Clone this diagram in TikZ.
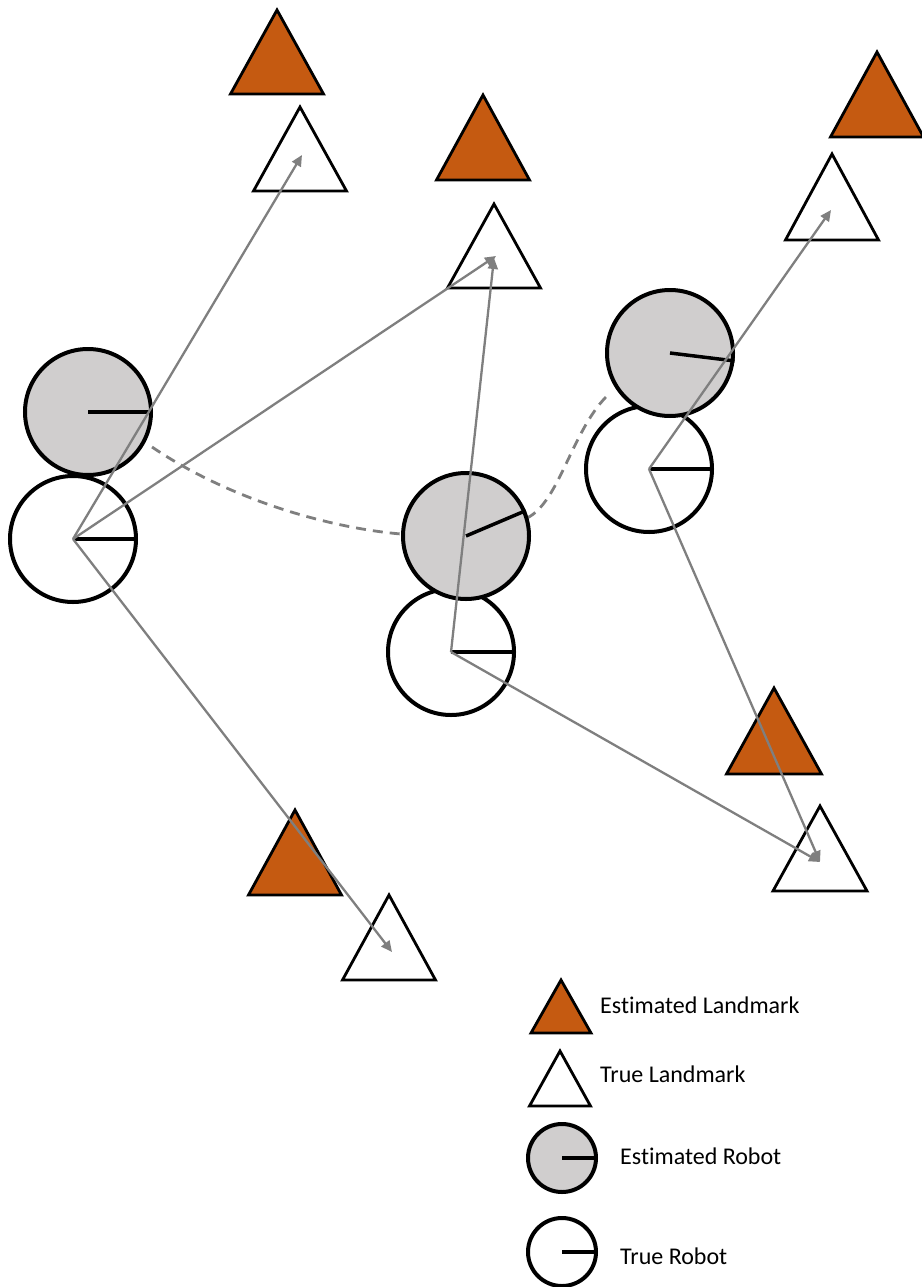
\documentclass[tikz,border=0pt]{standalone}
\usepackage{fontspec}
\setmainfont{Carlito}[Ligatures={NoCommon}]
\usetikzlibrary{arrows.meta}
\definecolor{estorange}{HTML}{C55A11}
\definecolor{estgray}{HTML}{D0CECE}
\definecolor{raygray}{HTML}{7F7F7F}
\tikzset{
  truerobot/.style={circle, draw=black, line width=4pt, fill=white, minimum size=126pt, inner sep=0pt},
  estrobot/.style={truerobot, fill=estgray},
  heading/.style={draw=black, line width=3.5pt},
  truelmk/.style={draw=black, line width=2.8pt, fill=white, line join=miter},
  estlmk/.style={truelmk, fill=estorange},
  ray/.style={draw=raygray, line width=2.3pt, -{Triangle[length=11pt,width=10pt]}},
  trail/.style={draw=raygray, line width=2.8pt, dash pattern=on 10pt off 7pt},
  label/.style={anchor=base west, font=\fontsize{24pt}{28pt}\selectfont, inner sep=0pt}
}
% landmark triangle: name, apex x, apex y, style, half base, height
\newcommand{\landmark}[6]{%
  \path[#4] (#2,#3) -- ++(-#5,#6) -- ++(2*#5,0) -- cycle;
  \coordinate (#1) at (#2,#3+#6*2/3);
}
\begin{document}
\begin{tikzpicture}[x=1pt,y=-1pt]
\useasboundingbox (0,0) rectangle (921,1287);

% landmarks: estimated (orange) and true (white)
\landmark{e1}{277}{10}{estlmk}{46.5}{84}
\landmark{l1}{300}{107}{truelmk}{46.5}{84}
\landmark{e2}{483}{95}{estlmk}{46.5}{85}
\landmark{l2}{494}{204}{truelmk}{46.5}{84}
\landmark{e3}{877}{52}{estlmk}{46.5}{85}
\landmark{l3}{832}{154}{truelmk}{46.5}{86}
\landmark{e4}{774}{688}{estlmk}{47.5}{86}
\landmark{l4}{820}{806}{truelmk}{47}{85}
\landmark{e5}{295}{810}{estlmk}{46.5}{85}
\landmark{l5}{389}{895}{truelmk}{46.5}{85}

% estimated trajectory
\coordinate (d1a) at (152,447);
\coordinate (d1b) at (401,534);
\coordinate (d2a) at (527,518);
\coordinate (d2b) at (610,393);
\draw[trail] (d1a) .. controls (230,500) and (330,528) .. (d1b);
\draw[trail] (d2a) .. controls (560,502) and (572,428) .. (d2b);

% robots: true pose under estimated pose
\node[truerobot] (t1) at (73,539) {};
\node[estrobot] (r1) at (88,412) {};
\node[truerobot] (t2) at (451,652) {};
\node[estrobot] (r2) at (466,536) {};
\node[truerobot] (t3) at (649,469) {};
\node[estrobot] (r3) at (670,353) {};

\draw[heading] (t1.center) -- (t1.east);
\draw[heading] (r1.center) -- (r1.east);
\draw[heading] (t2.center) -- (t2.east);
\draw[heading] (r2.center) -- (r2.23);
\draw[heading] (t3.center) -- (t3.east);
\draw[heading] (r3.center) -- (r3.-7);

% observations from true poses to true landmarks
\coordinate (p1) at (302,155);
\coordinate (p2) at (496,256);
\coordinate (p3) at (392,952);
\coordinate (p4) at (494,258);
\coordinate (p5) at (820,862);
\coordinate (p6) at (831,210);
\draw[ray] (t1.center) -- (p1);
\draw[ray] (t1.center) -- (p2);
\draw[ray] (t1.center) -- (p3);
\draw[ray] (t2.center) -- (p4);
\draw[ray] (t2.center) -- (p5);
\draw[ray] (t3.center) -- (p6);
\draw[ray] (t3.center) -- (p5);

% legend
\landmark{ke}{561}{980}{estlmk}{30}{53}
\landmark{kt}{560}{1051}{truelmk}{30.5}{55}
\node[estrobot, minimum size=68pt] (kr) at (562,1158) {};
\draw[heading] (kr.center) -- (kr.east);
\node[truerobot, minimum size=68pt] (ktr) at (562,1252) {};
\draw[heading] (ktr.center) -- (ktr.east);
\node[label] (le) at (600,1013) {Estimated Landmark};
\node[label] (lt) at (600,1082) {True Landmark};
\node[label] (lr) at (620,1164) {Estimated Robot};
\node[label] (ltr) at (620,1264) {True Robot};
\end{tikzpicture}
\end{document}
